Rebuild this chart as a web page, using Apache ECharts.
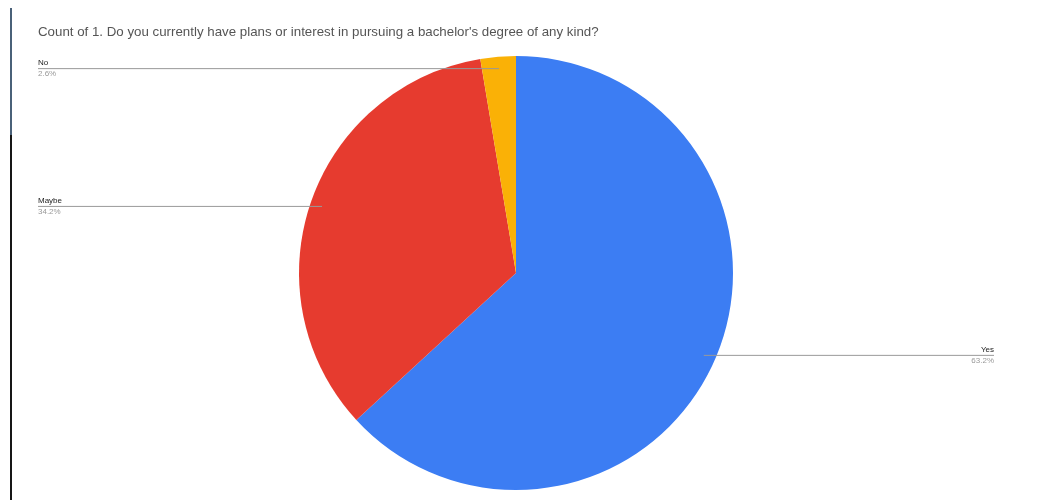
<!DOCTYPE html>
<html>
<head>
<meta charset="utf-8">
<script src="https://cdn.jsdelivr.net/npm/echarts@6/dist/echarts.min.js"></script>
<style>
html,body{margin:0;padding:0;background:#fff;}
#chart{width:1052px;height:500px;}
</style>
</head>
<body>
<div id="chart"></div>
<script>
var titleText = "Count of 1. Do you currently have plans or interest in pursuing a bachelor's degree of any kind?";
var categories = ['Yes', 'Maybe', 'No'];
var counts = [24, 13, 1];
var colors = ['#3c7df3', '#e63b2f', '#fab106'];

var pieCenter = [516, 273];
var pieRadius = 217;

var myChart = echarts.init(document.getElementById('chart'));

var pieData = [], labelData = [];
for (var i = 0; i < categories.length; i++) {
	pieData.push({name: categories[i], value: counts[i], itemStyle: {color: colors[i]}});
	labelData.push({name: categories[i], value: counts[i]});
}

var option = {
	animation: false,
	title: {
		text: titleText,
		left: 38,
		top: 26,
		padding: 0,
		textStyle: {
			fontFamily: 'Liberation Sans',
			fontSize: 13.3,
			fontWeight: 'normal',
			color: '#555'
		}
	},
	graphic: [
		// dark edge strip on the left of the screenshot
		{type: 'rect', shape: {x: 10, y: 8, width: 2, height: 127}, style: {fill: '#4a6179'}},
		{type: 'rect', shape: {x: 10, y: 135, width: 2, height: 365}, style: {fill: '#161616'}}
	],
	series: [
		{
			name: 'Count',
			type: 'pie',
			z: 2,
			center: pieCenter,
			radius: [0, pieRadius],
			startAngle: 90,
			clockwise: true,
			data: pieData,
			itemStyle: {borderWidth: 0},
			emphasis: {disabled: true},
			label: {show: false},
			labelLine: {show: false}
		},
		{
			// transparent copy on top, only for the labels and their lines
			name: 'Labels',
			type: 'pie',
			z: 5,
			silent: true,
			center: pieCenter,
			radius: [0, pieRadius],
			startAngle: 90,
			clockwise: true,
			data: labelData,
			itemStyle: {color: 'rgba(0,0,0,0)', borderWidth: 0},
			emphasis: {disabled: true},
			label: {
				show: true,
				position: 'outside',
				fontFamily: 'Liberation Sans',
				formatter: function (p) {
					return '{n|' + p.name + '}\n{p|' + p.percent.toFixed(1) + '%}';
				},
				rich: {
					n: {fontSize: 8, color: '#222', lineHeight: 11, fontFamily: 'Liberation Sans'},
					p: {fontSize: 8, color: '#999', lineHeight: 11, fontFamily: 'Liberation Sans'}
				}
			},
			labelLine: {
				show: true,
				lineStyle: {color: '#999', width: 1}
			},
			labelLayout: function (params) {
				var p0 = params.labelLinePoints[0];
				var ax = pieCenter[0] + (p0[0] - pieCenter[0]) * 0.945;
				var ay = pieCenter[1] + (p0[1] - pieCenter[1]) * 0.945;
				var left = ax < pieCenter[0];
				var endX = left ? 38 : 994;
				return {
					x: endX,
					y: ay,
					align: left ? 'left' : 'right',
					verticalAlign: 'middle',
					labelLinePoints: [[ax, ay], [endX, ay], [endX, ay]]
				};
			}
		}
	]
};
myChart.setOption(option);
</script>
</body>
</html>
